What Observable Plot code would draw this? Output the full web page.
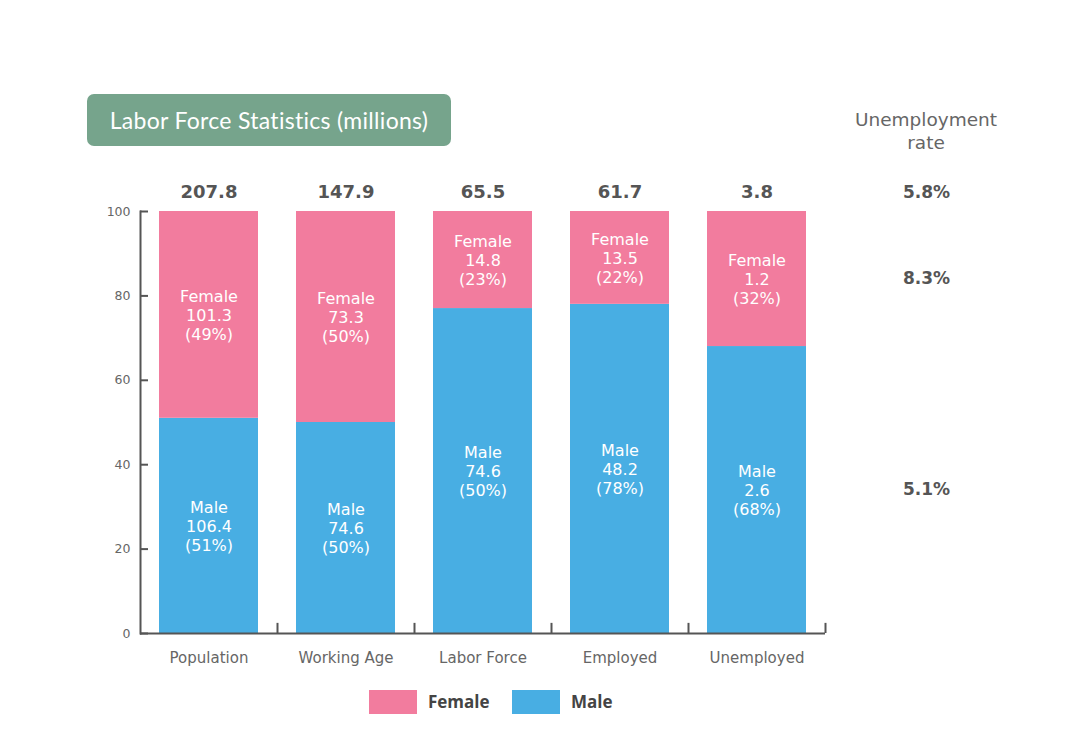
<!DOCTYPE html>
<html>
<head>
<meta charset="utf-8">
<script src="https://cdn.jsdelivr.net/npm/d3@7"></script>
<script src="https://cdn.jsdelivr.net/npm/@observablehq/plot@0.6"></script>
<style>
  body { margin: 0; background: #fff; }
  #wrap { width: 1080px; height: 735px; position: relative; overflow: hidden; }
  #header { position: relative; height: 160px; }
  #title { position: absolute; left: 87px; top: 94px; width: 364px; height: 52px; background: #76a48c; border-radius: 7px;
           color: #fff; font: 23px "Lato", "Noto Sans", sans-serif; line-height: 52px; text-align: center; letter-spacing: 0.3px; }
  #rateHead { position: absolute; left: 826px; width: 200px; top: 108px; text-align: center; color: #666;
              font: 18.5px "DejaVu Sans", sans-serif; line-height: 23px; }
  #legend { position: relative; height: 55px; }
  .sw { position: absolute; top: 10px; width: 48px; height: 24px; }
  .lt { position: absolute; top: 10px; line-height: 24px; font: bold 17px "Open Sans", sans-serif; color: #444; }
</style>
</head>
<body>
<div id="wrap">
  <div id="header">
    <div id="title">Labor Force Statistics (millions)</div>
    <div id="rateHead">Unemployment<br>rate</div>
  </div>
  <div id="chart"></div>
  <div id="legend">
    <div class="sw" style="left:369px;background:#f27c9e"></div><div class="lt" style="left:428px">Female</div>
    <div class="sw" style="left:512px;background:#48aee3"></div><div class="lt" style="left:571px">Male</div>
  </div>
</div>
<script>
const categories = ["Population", "Working Age", "Labor Force", "Employed", "Unemployed"];
const totals = [207.8, 147.9, 65.5, 61.7, 3.8];
const maleValues = [106.4, 74.6, 74.6, 48.2, 2.6];
const femaleValues = [101.3, 73.3, 14.8, 13.5, 1.2];
const maleShare = [51, 50, 77, 78, 68];     // bar heights (%)
const femaleShare = [49, 50, 23, 22, 32];
const maleLabelPct = [51, 50, 50, 78, 68];  // percentages as printed
const femaleLabelPct = [49, 50, 23, 22, 32];
const rateGroups = ["Total", "Female", "Male"];
const rateValues = [5.8, 8.3, 5.1];
const yTicks = [0, 20, 40, 60, 80, 100];

const PINK = "#f27c9e", BLUE = "#48aee3";
const LABEL_FONT = "'DejaVu Sans', Verdana, sans-serif";

const rows = [];
categories.forEach((c, i) => {
  rows.push({cat: c, sex: "Male", y1: 0, y2: maleShare[i], mid: maleShare[i] / 2,
             label: `Male\n${maleValues[i]}\n(${maleLabelPct[i]}%)`});
  rows.push({cat: c, sex: "Female", y1: maleShare[i], y2: maleShare[i] + femaleShare[i],
             mid: maleShare[i] + femaleShare[i] / 2,
             label: `Female\n${femaleValues[i]}\n(${femaleLabelPct[i]}%)`});
});
const last = categories.length - 1;
const rateRows = rateGroups.map((g, i) => ({
  g, v: rateValues[i],
  y: g === "Total" ? 100 : g === "Female" ? maleShare[last] + femaleShare[last] / 2 : maleShare[last] / 2
}));

const plot = Plot.plot({
  width: 1080,
  height: 520,
  marginTop: 51,
  marginBottom: 47,
  marginLeft: 140,
  marginRight: 255,
  style: {fontFamily: LABEL_FONT, color: "#666", background: "transparent"},
  x: {domain: categories, paddingInner: 0.28, paddingOuter: 0.14, label: null},
  y: {domain: [0, 100], label: null},
  color: {domain: ["Female", "Male"], range: [PINK, BLUE]},
  marks: [
    Plot.barY(rows, {x: "cat", y1: "y1", y2: "y2", fill: "sex"}),
    Plot.text(rows, {x: "cat", y: "mid", text: "label", fill: "#fff", fontSize: 16, lineHeight: 1.19,
                     fontFamily: LABEL_FONT}),
    Plot.text(categories, {x: d => d, y: 100, text: (d, i) => totals[i].toFixed(1), dy: -19,
                           fontSize: 18, fontWeight: "bold", fill: "#555", fontFamily: LABEL_FONT}),
    Plot.text(rateRows.filter(d => d.g === "Total"), {y: "y", text: d => d.v.toFixed(1) + "%", frameAnchor: "right",
                         textAnchor: "middle", dx: 101, dy: -19, fontSize: 17, fontWeight: "bold", fill: "#555",
                         fontFamily: LABEL_FONT}),
    Plot.text(rateRows.filter(d => d.g !== "Total"), {y: "y", text: d => d.v.toFixed(1) + "%", frameAnchor: "right",
                         textAnchor: "middle", dx: 101, fontSize: 17, fontWeight: "bold", fill: "#555",
                         fontFamily: LABEL_FONT}),
    Plot.ruleY([0], {stroke: "#555", strokeWidth: 2}),
    Plot.frame({anchor: "left", stroke: "#555", strokeWidth: 2}),
    Plot.ruleX(categories, {x: d => d, y1: 0, y2: 2.4, dx: 68.5, stroke: "#555", strokeWidth: 2}),
    Plot.axisY({ticks: yTicks, tickSize: -8, tickPadding: 18, stroke: "#555", strokeWidth: 2, fontSize: 12.5,
                fill: "#666", label: null, fontFamily: LABEL_FONT}),
    Plot.axisX({tickSize: 0, tickPadding: 19, fontSize: 15, fill: "#666", label: null,
                fontFamily: LABEL_FONT})
  ]
});
document.getElementById("chart").appendChild(plot);
</script>
</body>
</html>
